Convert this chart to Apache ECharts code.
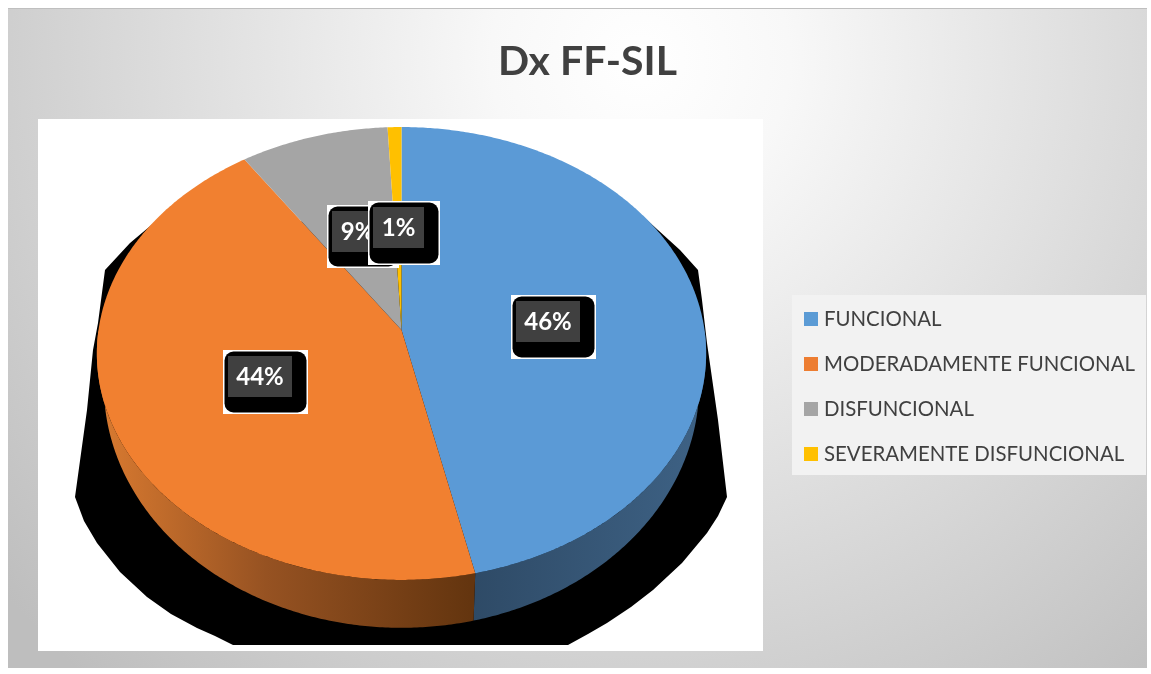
<!DOCTYPE html>
<html>
<head>
<meta charset="utf-8">
<style>html,body{margin:0;padding:0;background:#fff}#c{width:1151px;height:674px}</style>
<script src="https://cdn.jsdelivr.net/npm/echarts@6/dist/echarts.min.js"></script>
</head>
<body>
<div id="c"></div>
<script>
// ---- data ----
const titleText = 'Dx FF-SIL';
const categories = ['FUNCIONAL', 'MODERADAMENTE FUNCIONAL', 'DISFUNCIONAL', 'SEVERAMENTE DISFUNCIONAL'];
const values = [46.49, 44.0, 8.7, 0.81];
const colors = ['#5B9BD5', '#ED7D31', '#A5A5A5', '#FFC000'];
const topColors = ['#5B9AD6', '#F18030', '#A5A5A5', '#FFC000'];

// ---- layout ----
const apex = { x: 401.5, y: 330 }, rimA = 303, rimB = 224, tilt = 0.1037;
const topCentre = { x: 402, y: 353 }, baseCentre = { x: 402, y: 385 }, baseScaleX = 0.977, baseScaleY = 1.07;
const labelBoxes = [
  { x: 511, y: 295, w: 85, h: 64 },
  { x: 223, y: 350, w: 85, h: 64 },
  { x: 327, y: 205, w: 72, h: 63 },
  { x: 368, y: 201, w: 72, h: 64 }
];
const total = values.reduce((a, b) => a + b, 0);
let acc = 0;
const spans = values.map(v => { const s = acc; acc += v; return [s / total, acc / total]; });

function rim(deg) {
  const t = deg * Math.PI / 180, u = Math.sin(t), v = -Math.cos(t), w = 1 - tilt * v;
  return [apex.x + rimA * u / w, apex.y + rimB * v / w];
}
function base(p) {
  return [baseCentre.x + baseScaleX * (p[0] - topCentre.x), baseCentre.y + baseScaleY * (p[1] - topCentre.y)];
}
function arc(a, b) {
  const pts = [], n = Math.max(2, Math.ceil((b - a) * 2));
  for (let i = 0; i <= n; i++) pts.push(rim(a + (b - a) * i / n));
  return pts;
}
function wallFill(idx) {
  const G = echarts.graphic.LinearGradient;
  if (idx === 0) return new G(470, 0, 705, 0, [{ offset: 0, color: '#2E4A66' }, { offset: 1, color: '#3E6285' }], true);
  if (idx === 1) return new G(100, 0, 470, 0, [{ offset: 0, color: '#D97A30' }, { offset: 0.45, color: '#965222' }, { offset: 1, color: '#64350F' }], true);
  return colors[idx];
}
function renderSlice(idx) {
  return function (params, api) {
    const a = api.value(0) * 360, b = api.value(1) * 360;
    const children = [];
    const fa = Math.max(a, 90), fb = Math.min(b, 270);
    if (fb > fa) {
      const edge = arc(fa, fb);
      const wall = edge.concat(edge.slice().reverse().map(base));
      children.push({ type: 'polygon', z2: 1, shape: { points: wall }, style: { fill: wallFill(idx) } });
    }
    const face = [[apex.x, apex.y]].concat(arc(a, b));
    children.push({ type: 'polygon', z2: 5, shape: { points: face }, style: { fill: topColors[idx] } });
    return { type: 'group', children };
  };
}
function renderLabel(params, api) {
  const box = labelBoxes[params.dataIndex];
  const pct = Math.round(api.value(0)) + '%';
  const gx = box.x + 5, gy = box.y + 6, gw = box.w - 21, gh = 41;
  const z = 20 + params.dataIndex * 5;
  return {
    type: 'group',
    children: [
      { type: 'rect', z2: z, shape: { x: box.x, y: box.y, width: box.w, height: box.h }, style: { fill: '#fff' } },
      { type: 'rect', z2: z + 1, shape: { x: box.x + 1.5, y: box.y + 1.5, width: box.w - 3, height: box.h - 3, r: 9 }, style: { fill: '#000' } },
      { type: 'rect', z2: z + 2, shape: { x: gx, y: gy, width: gw, height: gh }, style: { fill: '#404040' } },
      { type: 'text', z2: z + 3, style: { x: gx + gw / 2, y: gy + gh / 2 + 1, text: pct, fill: '#fff', font: 'bold 24px Lato', align: 'center', verticalAlign: 'middle' } }
    ]
  };
}

const shadowOutline = [
  [155,222],[130,243],[105,270],[98,323],[93,350],[87,410],[75,497],[84,521],[97,543],[120,572],[147,597],[171,614],[197,628],[215,636],[233,645],
  [568,645],[588,634],[607,623],[631,607],[653,590],[682,563],[707,533],[718,516],[727,497],[718,420],[707,343],[702,300],[698,270],[680,250],[647,220]
];

const chart = echarts.init(document.getElementById('c'), null, { renderer: 'canvas' });
chart.setOption({
  animation: false,
  title: { text: titleText, left: 498, top: 41, padding: 0, textStyle: { fontFamily: 'Lato', fontWeight: 'bold', fontSize: 41, color: '#404040' } },
  legend: {
    orient: 'vertical', left: 804, top: 308, padding: 0, itemWidth: 14, itemHeight: 14, itemGap: 23,
    icon: 'rect', data: categories, selectedMode: false,
    textStyle: { fontFamily: 'Lato', fontSize: 20.4, lineHeight: 22, color: '#404040', padding: [0, 0, 0, 1] }
  },
  graphic: [
    { type: 'rect', z: -10, shape: { x: 8, y: 8, width: 1139, height: 660 },
      style: { fill: new echarts.graphic.RadialGradient(640, 60, 830, [{ offset: 0, color: '#FFFFFF' }, { offset: 0.18, color: '#F8F8F8' }, { offset: 1, color: '#BEBEBE' }], true) } },
    { type: 'rect', z: -9, shape: { x: 8, y: 8, width: 1139, height: 1 }, style: { fill: '#BFBFBF' } },
    { type: 'rect', z: -9, shape: { x: 38, y: 119, width: 725, height: 532 }, style: { fill: '#FFFFFF' } },
    { type: 'polygon', z: -8, shape: { points: shadowOutline }, style: { fill: '#000000' } },
    { type: 'rect', z: -9, shape: { x: 792, y: 295, width: 354, height: 180 }, style: { fill: '#F2F2F2' } }
  ],
  series: categories.map((name, i) => ({
    type: 'custom', name, coordinateSystem: 'none', silent: true,
    itemStyle: { color: colors[i] },
    renderItem: renderSlice(i),
    data: [spans[i]]
  })).concat([{
    type: 'custom', name: 'labels', coordinateSystem: 'none', silent: true,
    renderItem: renderLabel,
    data: values.map(v => [v])
  }])
});
</script>
</body>
</html>
